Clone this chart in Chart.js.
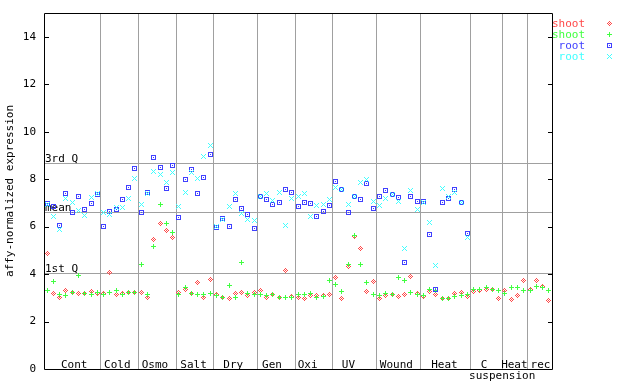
<!DOCTYPE html>
<html><head><meta charset="utf-8">
<script src="https://cdn.jsdelivr.net/npm/chart.js@4/dist/chart.umd.min.js"></script>
<style>html,body{margin:0;padding:0;background:#fff;}</style>
</head><body>
<canvas id="c" width="640" height="384"></canvas>
<script>
// ---- data ----
const groupNames = ['Cont','Cold','Osmo','Salt','Dry','Gen','Oxi','UV','Wound','Heat','C','Heat','rec'];
const groupSub   = ['','','','','','','','','','','suspension','',''];
const groupSizes = [9,6,6,6,7,6,6,7,7,8,5,4,4];
const quartileNames  = ['3rd Q','mean','1st Q'];
const quartileValues = [8.67, 6.61, 4.06];
const seriesNames = ['shoot','shoot','root','root'];

const shootRed = [
  4.88,3.19,3.02,3.32,3.22,3.19,3.18,3.25,3.19,
  3.19,4.07,3.12,3.19,3.23,3.23,
  3.23,3.02,5.44,6.14,5.82,5.55,
  3.23,3.37,3.19,3.66,3.02,3.78,
  3.13,3.01,2.98,3.20,3.23,3.09,3.23,
  3.29,3.02,3.12,3.02,4.17,3.05,
  3.00,2.97,3.10,3.10,3.09,3.12,
  3.87,2.98,4.33,5.58,5.09,3.28,3.70,
  2.98,3.10,3.15,3.07,3.15,3.91,3.19,
  3.07,3.28,3.16,2.98,2.98,3.19,3.23,3.07,
  3.28,3.32,3.36,3.36,2.98,
  3.32,2.94,3.11,3.71,
  3.36,3.71,3.49,2.90
];
const shootGreen = [
  3.32,3.70,3.16,3.10,3.23,3.95,3.18,3.12,3.23,
  3.12,3.23,3.32,3.12,3.23,3.23,
  4.42,3.15,5.17,6.94,6.14,5.76,
  3.12,3.44,3.19,3.12,3.15,3.19,
  3.09,3.02,3.50,3.02,4.50,3.19,3.16,
  3.15,3.09,3.15,3.00,3.03,3.03,
  3.16,3.16,3.19,3.02,3.04,3.74,
  3.57,3.28,4.41,5.64,4.41,3.66,3.15,
  3.11,3.19,3.15,3.87,3.74,3.23,3.15,
  3.09,3.37,3.29,2.98,2.98,3.07,3.11,3.15,
  3.36,3.36,3.42,3.36,3.29,
  3.19,3.42,3.42,3.29,
  3.32,3.46,3.42,3.32
];
const rootBlue = [
  6.99,6.86,6.06,7.38,6.61,7.28,6.73,6.99,7.37,
  6.02,6.65,6.73,7.16,7.66,8.46,
  6.61,7.45,8.93,8.50,7.62,8.56,
  6.40,8.00,8.42,7.41,8.08,9.05,
  5.98,6.35,6.02,7.16,6.75,6.52,5.93,
  7.26,7.16,6.94,7.03,7.58,7.45,
  6.86,7.03,6.99,6.44,6.65,6.90,
  7.91,7.55,6.61,7.27,7.16,7.83,6.78,
  7.28,7.53,7.37,7.24,4.50,7.28,7.07,
  7.07,5.68,3.37,7.03,7.20,7.58,7.03,5.72,
  null,null,null,null,null,
  null,null,null,null,
  null,null,null,null
];
const rootCyan = [
  6.95,6.44,5.89,7.18,7.03,6.69,6.48,7.21,7.38,
  6.61,6.49,6.82,6.80,7.20,8.01,
  6.94,7.38,8.34,8.21,7.84,8.29,
  6.86,7.45,8.29,8.04,8.97,9.43,
  6.00,6.28,6.86,7.38,6.57,6.31,6.24,
  7.26,7.38,7.10,7.45,6.06,7.20,
  7.28,7.38,6.44,6.90,6.94,7.16,
  7.66,7.55,6.94,7.27,7.87,8.00,7.07,
  6.90,7.20,7.37,7.07,5.09,7.53,6.73,
  7.00,6.19,4.37,7.62,7.28,7.45,7.03,5.55,
  null,null,null,null,null,
  null,null,null,null,
  null,null,null,null
];

// ---- style / layout (not data) ----
const FONT_FAMILY = '"DejaVu Sans Mono", monospace';
const FONT = '11px ' + FONT_FAMILY;
const COLORS = ['#ff4848', '#40ff40', '#4040ff', '#40ffff'];
const labelNudge = [2,-2,-2,-1,-2,-4,-6,-6,-2,-1,-2,0,1];

function makeMarker(color, fn, r) {
  const s = 2 * r + 1;
  const c = document.createElement('canvas');
  c.width = s; c.height = s;
  const g = c.getContext('2d');
  g.fillStyle = color;
  for (let dy = -r; dy <= r; dy++)
    for (let dx = -r; dx <= r; dx++)
      if (fn(dx, dy)) g.fillRect(dx + r, dy + r, 1, 1);
  return c;
}
const markers = [
  makeMarker(COLORS[0], (dx,dy) => { const d = Math.abs(dx) + Math.abs(dy); return d <= 2 && d % 2 === 0; }, 2),
  makeMarker(COLORS[1], (dx,dy) => dx === 0 || dy === 0, 2),
  makeMarker(COLORS[2], (dx,dy) => Math.max(Math.abs(dx), Math.abs(dy)) === 2 || (dx === 0 && dy === 0), 2),
  makeMarker(COLORS[3], (dx,dy) => Math.abs(dx) === Math.abs(dy), 2)
];

const total = groupSizes.reduce((a, b) => a + b, 0);
const toPts = arr => arr.map((v, i) => v == null ? null : {x: i + 0.5, y: v}).filter(p => p);
const seriesData = [shootRed, shootGreen, rootBlue, rootCyan];

const deco = {
  id: 'deco',
  beforeDatasetsDraw(chart) {
    const {ctx, chartArea: a, scales: {x, y}} = chart;
    // snap point elements (positioned by the library's scales) to the pixel grid for crisp bitmap markers
    chart.getSortedVisibleDatasetMetas().forEach(meta => {
      meta.data.forEach(el => { el.x = Math.floor(el.x) + 0.5; el.y = Math.floor(el.y) + 0.5; });
    });
    ctx.save();
    ctx.strokeStyle = '#a0a0a0';
    ctx.lineWidth = 1;
    ctx.beginPath();
    let acc = 0;
    for (let i = 0; i < groupSizes.length - 1; i++) {
      acc += groupSizes[i];
      const px = Math.round(x.getPixelForValue(acc)) + 0.5;
      ctx.moveTo(px, a.top); ctx.lineTo(px, a.bottom);
    }
    quartileValues.forEach(v => {
      const py = Math.round(y.getPixelForValue(v)) + 0.5;
      ctx.moveTo(a.left, py); ctx.lineTo(a.right, py);
    });
    ctx.stroke();

    ctx.font = FONT;
    ctx.fillStyle = '#000';
    ctx.textAlign = 'left';
    ctx.textBaseline = 'alphabetic';
    quartileValues.forEach((v, i) => {
      const py = Math.round(y.getPixelForValue(v));
      ctx.fillText(quartileNames[i], a.left + 1, py - 1);
    });

    ctx.textAlign = 'center';
    acc = 0;
    groupSizes.forEach((n, i) => {
      const cx = x.getPixelForValue(acc + n / 2) + labelNudge[i];
      ctx.fillText(groupNames[i], cx, a.bottom - 1);
      if (groupSub[i]) ctx.fillText(groupSub[i], cx + 18, a.bottom + 10);
      acc += n;
    });
    ctx.restore();
    ctx.imageSmoothingEnabled = false;
  },
  afterDatasetsDraw(chart) {
    const {ctx, chartArea: a, scales: {y}} = chart;
    ctx.save();
    ctx.strokeStyle = '#000';
    ctx.lineWidth = 1;
    ctx.beginPath();
    ctx.rect(a.left + 0.5, a.top + 0.5, a.right - a.left, a.bottom - a.top);
    y.ticks.forEach(t => {
      if (t.value <= 0) return;
      const py = Math.round(y.getPixelForValue(t.value)) + 0.5;
      ctx.moveTo(a.left, py); ctx.lineTo(a.left + 5, py);
      ctx.moveTo(a.right + 1, py); ctx.lineTo(a.right - 4, py);
    });
    ctx.stroke();
    ctx.restore();
  },
  afterDraw(chart) {
    const {ctx} = chart;
    ctx.save();
    ctx.font = FONT;
    ctx.textAlign = 'right';
    ctx.textBaseline = 'alphabetic';
    ctx.imageSmoothingEnabled = false;
    chart.data.datasets.forEach((ds, i) => {
      const cy = 23 + 11 * i;
      ctx.fillStyle = COLORS[i];
      ctx.fillText(ds.label, 585, cy + 4);
      const m = markers[i];
      ctx.drawImage(m, 609 - Math.floor(m.width / 2), cy - Math.floor(m.height / 2));
    });
    ctx.restore();
  }
};

new Chart(document.getElementById('c'), {
  type: 'scatter',
  data: {
    datasets: seriesData.map((arr, i) => ({
      label: seriesNames[i],
      data: toPts(arr),
      pointStyle: markers[i],
      pointRadius: 3,
      pointHoverRadius: 3,
      borderColor: COLORS[i],
      backgroundColor: COLORS[i],
      order: 4 - i
    }))
  },
  options: {
    responsive: false,
    animation: false,
    devicePixelRatio: 1,
    layout: {padding: {left: 0, right: 88, top: 13, bottom: 15}},
    plugins: {legend: {display: false}, tooltip: {enabled: false}},
    scales: {
      x: {type: 'linear', min: 0, max: total, display: false},
      y: {
        type: 'linear', min: 0, max: 15,
        grid: {display: false, drawTicks: false},
        border: {display: false},
        ticks: {stepSize: 2, includeBounds: false, padding: 8, color: '#000',
                font: {family: FONT_FAMILY, size: 11}},
        title: {display: true, text: 'affy-normalized expression', color: '#000',
                font: {family: FONT_FAMILY, size: 11}, padding: {top: 4, bottom: 0}},
        afterFit(s) { s.width = 44; s.paddingTop = 0; s.paddingBottom = 0; }
      }
    }
  },
  plugins: [deco]
});
</script>
</body></html>
